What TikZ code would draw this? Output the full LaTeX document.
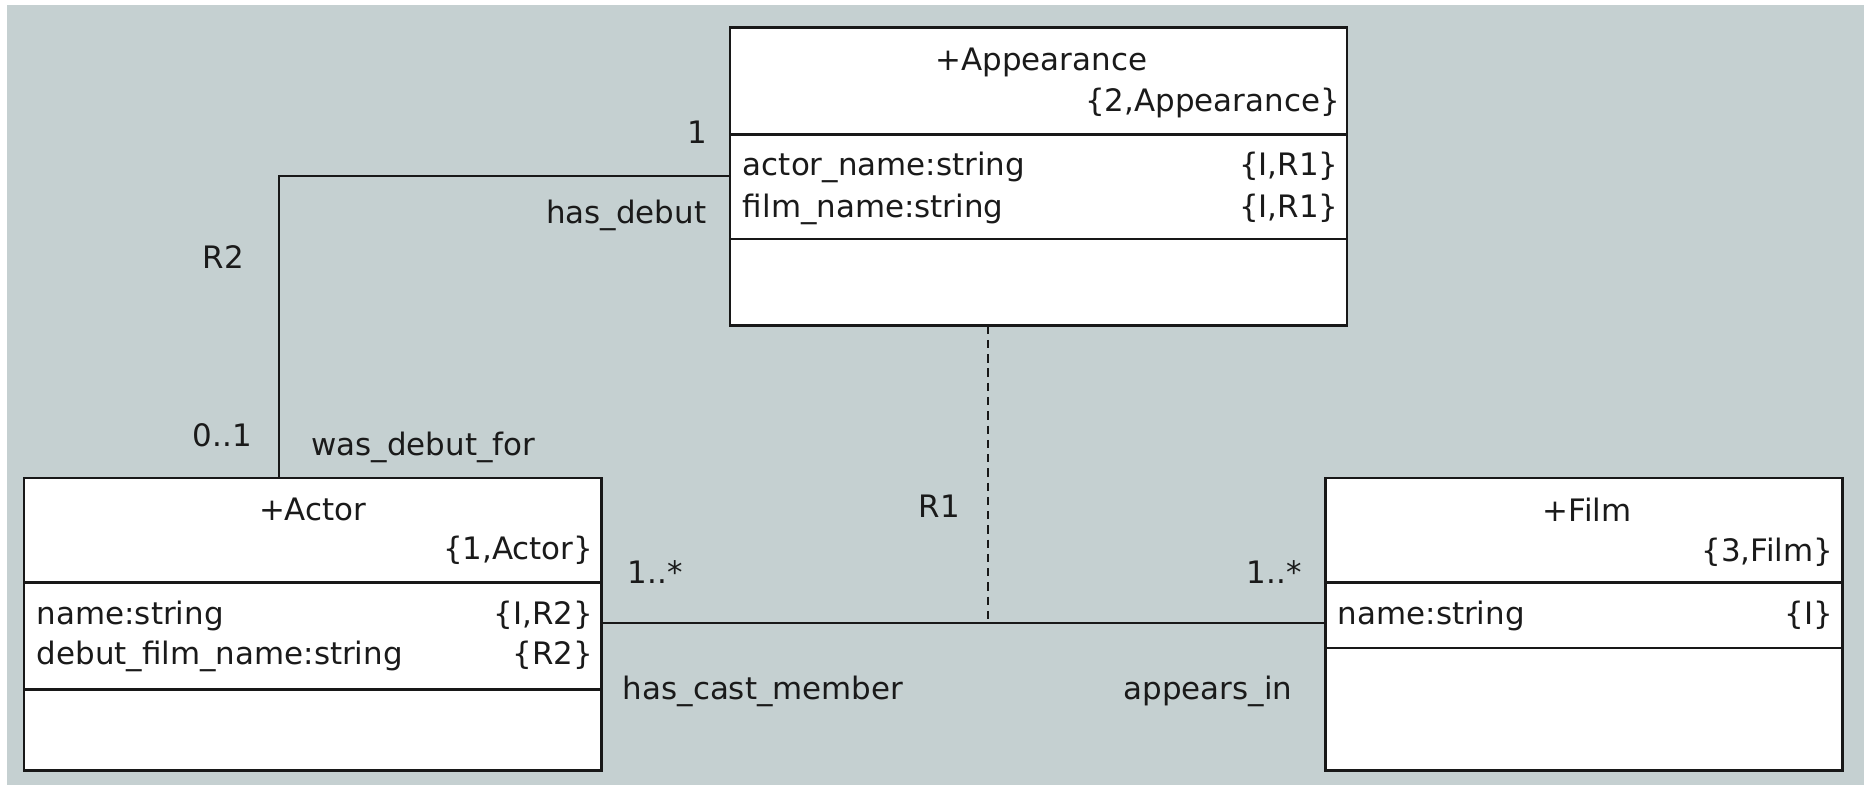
\documentclass[tikz,border=0pt]{standalone}
\usepackage{fontspec}
\setmainfont{DejaVu Sans}
\definecolor{bgcol}{HTML}{C5D0D1}
\definecolor{boxcol}{HTML}{181818}
\definecolor{txtcol}{HTML}{1A1A1A}
\begin{document}
\begin{tikzpicture}[x=0.02cm,y=-0.02cm,
  lbl/.style={inner sep=0pt, outer sep=0pt, text=txtcol, font=\fontsize{14.8}{17}\selectfont},
  classbox/.style={draw=boxcol, fill=white, line width=1.2pt, inner sep=0pt, outer sep=0pt, anchor=north west},
  divider/.style={draw=boxcol, line width=1.2pt},
  assoc/.style={draw=boxcol, line width=0.9pt},
  formal/.style={draw=boxcol, line width=0.9pt, dash pattern=on 0.14cm off 0.1cm}]
\fill[white] (0,0) rectangle (1568,660);
\fill[bgcol] (6,4) rectangle (1568,660);
\useasboundingbox (0,0) rectangle (1568,660);

% class boxes
\node[classbox, minimum width=10.38cm, minimum height=5.02cm] (app) at (614,23) {};
\node[classbox, minimum width=9.72cm, minimum height=4.92cm] (actor) at (20,402) {};
\node[classbox, minimum width=8.70cm, minimum height=4.92cm] (film) at (1115,402) {};

% dividers
\draw[divider] (app.west |- 0,113) -- (app.east |- 0,113);
\draw[divider] (app.west |- 0,201) -- (app.east |- 0,201);
\draw[divider] (actor.west |- 0,490) -- (actor.east |- 0,490);
\draw[divider] (actor.west |- 0,580) -- (actor.east |- 0,580);
\draw[divider] (film.west |- 0,490) -- (film.east |- 0,490);
\draw[divider] (film.west |- 0,545) -- (film.east |- 0,545);

% Appearance texts
\node[lbl, anchor=base] (appname) at (876,59) {+Appearance};
\node[lbl, anchor=base east] (appkey) at (1127,94) {\{2,Appearance\}};
\node[lbl, anchor=base west] (appa1) at (625,148) {actor\_name:string};
\node[lbl, anchor=base east] (appa1k) at (1126,148) {\{I,R1\}};
\node[lbl, anchor=base west] (appa2) at (625,183) {film\_name:string};
\node[lbl, anchor=base east] (appa2k) at (1126,183) {\{I,R1\}};

% Actor texts
\node[lbl, anchor=base] (actname) at (263,438) {+Actor};
\node[lbl, anchor=base east] (actkey) at (499,471) {\{1,Actor\}};
\node[lbl, anchor=base west] (acta1) at (31,525) {name:string};
\node[lbl, anchor=base east] (acta1k) at (499,525) {\{I,R2\}};
\node[lbl, anchor=base west] (acta2) at (31,559) {debut\_film\_name:string};
\node[lbl, anchor=base east] (acta2k) at (499,559) {\{R2\}};

% Film texts
\node[lbl, anchor=base] (filmname) at (1335,439) {+Film};
\node[lbl, anchor=base east] (filmkey) at (1542,472) {\{3,Film\}};
\node[lbl, anchor=base west] (filma1) at (1125.5,525) {name:string};
\node[lbl, anchor=base east] (filma1k) at (1542,525) {\{I\}};

% connectors
\coordinate (r2c) at (235,148);
\draw[assoc] (app.west |- r2c) -- (r2c) -- (actor.north -| r2c);
\coordinate (r1c) at (831,524);
\draw[assoc] (actor.east |- r1c) -- (film.west |- r1c);
\draw[formal] (app.south -| r1c) -- (r1c);

% association labels
\node[lbl, anchor=base] (m1) at (587,120.5) {1};
\node[lbl, anchor=base east] (hasdebut) at (594,188) {has\_debut};
\node[lbl, anchor=base] (r2lbl) at (188,226) {R2};
\node[lbl, anchor=base] (m01) at (187,376) {0..1};
\node[lbl, anchor=base west] (wasdebut) at (262,383) {was\_debut\_for};
\node[lbl, anchor=base] (r1lbl) at (790,435) {R1};
\node[lbl, anchor=base west] (m1sL) at (528,490.5) {1..*};
\node[lbl, anchor=base east] (m1sR) at (1095,490.5) {1..*};
\node[lbl, anchor=base west] (cast) at (524,588) {has\_cast\_member};
\node[lbl, anchor=base east] (appin) at (1087,588) {appears\_in};
\end{tikzpicture}
\end{document}
